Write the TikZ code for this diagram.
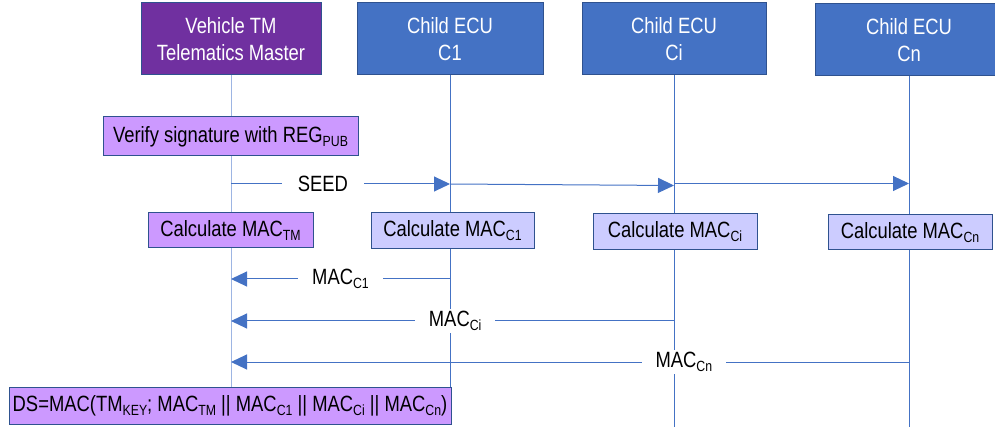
\documentclass[tikz,border=0pt]{standalone}
\usepackage{fontspec}
\usepackage{graphicx}
\setmainfont{Liberation Sans}
\usetikzlibrary{arrows.meta}
\definecolor{tmpurple}{HTML}{7030A0}
\definecolor{ecublue}{HTML}{4472C4}
\definecolor{boxedge}{HTML}{2F528F}
\definecolor{lightpurple}{HTML}{CC99FF}
\definecolor{lavender}{HTML}{CCCCFF}
\definecolor{paleline}{HTML}{9DB5E3}
\newcommand\sbx[1]{\raisebox{-0.35ex}{\fontsize{12.3}{12.3}\selectfont #1}}
\newcommand\tl[1]{\scalebox{1}[1.2]{#1}}
\begin{document}
\begin{tikzpicture}[x=1pt,y=-1pt, font=\fontsize{18.4}{27}\selectfont,
 actor/.style={draw=boxedge, line width=1pt, minimum height=72pt, text=white, align=center, inner sep=0pt},
 proc/.style={draw=boxedge, line width=1pt, text=black, inner sep=0pt},
 life/.style={ecublue, line width=0.8pt},
 tmlife/.style={paleline, line width=1pt},
 msg/.style={ecublue, line width=1pt, -{Triangle[length=16pt,width=15pt]}},
 lbl/.style={fill=white, text=black, inner xsep=14pt, inner ysep=2pt}]
\useasboundingbox (0,0) rectangle (995,427);
% actors
\node[actor, fill=tmpurple, minimum width=180pt] (tm) at (231,39) {\tl{Vehicle TM}\\\tl{Telematics Master}};
\node[actor, fill=ecublue, minimum width=186pt] (c1) at (450,39) {\tl{Child ECU}\\\tl{C1}};
\node[actor, fill=ecublue, minimum width=184pt] (ci) at (674,39) {\tl{Child ECU}\\\tl{Ci}};
\node[actor, fill=ecublue, minimum width=188pt] (cn) at (909,40) {\tl{Child ECU}\\\tl{Cn}};
\coordinate (bottom) at (0,427);
\coordinate (dstop) at (0,388);
% lifelines
\draw[tmlife] (tm.south) -- (tm.south |- dstop);
\draw[life] (c1.south) -- (c1.south |- dstop);
\draw[life] (ci.south) -- (ci.south |- bottom);
\draw[life] (cn.south) -- (cn.south |- bottom);
% process boxes
\node[proc, fill=lightpurple, minimum width=255pt, minimum height=39pt] (verify) at (230.5,136.5) {\tl{Verify signature with REG\sbx{PUB}}};
\node[proc, fill=lightpurple, minimum width=165pt, minimum height=35pt] (mtm) at (230.5,230.5) {\tl{Calculate MAC\sbx{TM}}};
\node[proc, fill=lavender, minimum width=163pt, minimum height=36pt] (mc1) at (452.5,231) {\tl{Calculate MAC\sbx{C1}}};
\node[proc, fill=lavender, minimum width=164pt, minimum height=36pt] (mci) at (675,232) {\tl{Calculate MAC\sbx{Ci}}};
\node[proc, fill=lavender, minimum width=164pt, minimum height=35pt] (mcn) at (910,232.5) {\tl{Calculate MAC\sbx{Cn}}};
\node[proc, fill=lightpurple, minimum width=442pt, minimum height=37pt] (ds) at (230,405.5) {\tl{DS=MAC(TM\sbx{KEY}; MAC\sbx{TM} || MAC\sbx{C1} || MAC\sbx{Ci} || MAC\sbx{Cn})}};
% messages
\coordinate (ya) at (0,184);
\coordinate (yb) at (0,185.5);
\coordinate (yc) at (0,183.5);
\coordinate (y1) at (0,279);
\coordinate (y2) at (0,321);
\coordinate (y3) at (0,362);
\draw[msg] (tm |- ya) -- node[lbl, pos=0.42, inner xsep=16pt] {\tl{SEED}} (c1 |- ya);
\draw[msg] (c1 |- ya) -- (ci |- yb);
\draw[msg] (ci |- yc) -- (cn |- yc);
\draw[msg] (c1 |- y1) -- node[lbl, pos=0.5] {\tl{MAC\sbx{C1}}} (tm |- y1);
\draw[msg] (ci |- y2) -- node[lbl, pos=0.494] {\tl{MAC\sbx{Ci}}} (tm |- y2);
\draw[msg] (cn |- y3) -- node[lbl, pos=0.332] {\tl{MAC\sbx{Cn}}} (tm |- y3);
\end{tikzpicture}
\end{document}
